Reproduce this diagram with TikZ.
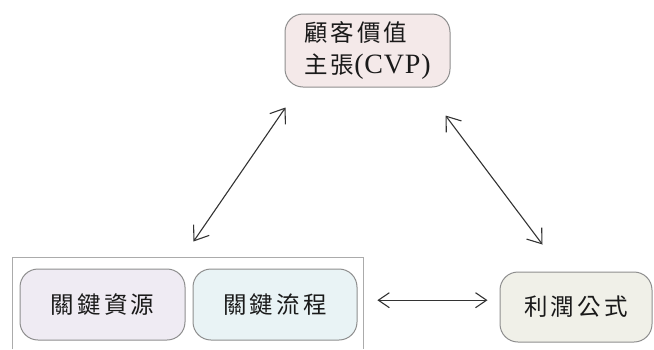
\documentclass[tikz,border=0pt]{standalone}
\usepackage{fontspec}
\newfontfamily\cjk[LetterSpace=13]{Noto Sans CJK TC}
\newfontfamily\latn[LetterSpace=3]{Liberation Serif}
\usetikzlibrary{arrows.meta,calc}
\definecolor{boxgray}{HTML}{8E8E8E}
\definecolor{grpgray}{HTML}{ABABAB}
\definecolor{txt}{HTML}{1A1A1A}
\definecolor{fpink}{HTML}{F4E9E9}
\definecolor{flav}{HTML}{EFEBF3}
\definecolor{fblue}{HTML}{E9F3F5}
\definecolor{fbeige}{HTML}{F0F0E8}
\definecolor{arr}{HTML}{333333}
\tikzset{
  box/.style={draw=boxgray, line width=1pt, rounded corners=18pt,
    minimum height=71pt, inner sep=0pt, text=txt,
    font=\cjk\fontsize{23.5}{32}\selectfont},
  biarrow/.style={draw=arr, line width=1.1pt,
    {Straight Barb[length=13pt,width=19pt]}-{Straight Barb[length=13pt,width=19pt]}},
  harrow/.style={draw=arr, line width=1.1pt,
    {Straight Barb[length=11pt,width=15pt]}-{Straight Barb[length=11pt,width=15pt]}},
  grpline/.style={draw=grpgray, line width=0.8pt}
}
\begin{document}
\begin{tikzpicture}[x=1pt,y=-1pt]
\useasboundingbox (0,0) rectangle (654,349);
\node[box, fill=fpink, minimum width=165pt, minimum height=73pt, align=left] (vp) at (367.5,50.5)
  {顧客價值\\主張{\latn\fontsize{28}{32}\selectfont(CVP)}};
\node[minimum width=351pt, minimum height=92pt, inner sep=0pt, anchor=north west] (group) at (12,257) {};
\draw[grpline] (group.south west) -- (group.north west) -- (group.north east) -- (group.south east);
\node[box, fill=flav, minimum width=165pt] (res) at (102.5,304.5) {關鍵資源};
\node[box, fill=fblue, minimum width=164pt] (proc) at (275,304.5) {關鍵流程};
\node[box, fill=fbeige, minimum width=152pt, minimum height=70pt] (profit) at (576,307) {利潤公式};
\coordinate (hl) at ([xshift=14pt,yshift=3pt]group.east);
\draw[harrow, shorten >=12pt] (hl) -- (hl -| profit.west);
\draw[biarrow] ([shift={(8pt,27pt)}]res.north east) -- ([shift={(1pt,-20pt)}]vp.south west);
\draw[biarrow] ([shift={(-5pt,-28pt)}]vp.south east) -- ([shift={(43pt,27pt)}]profit.north west);
\end{tikzpicture}
\end{document}
